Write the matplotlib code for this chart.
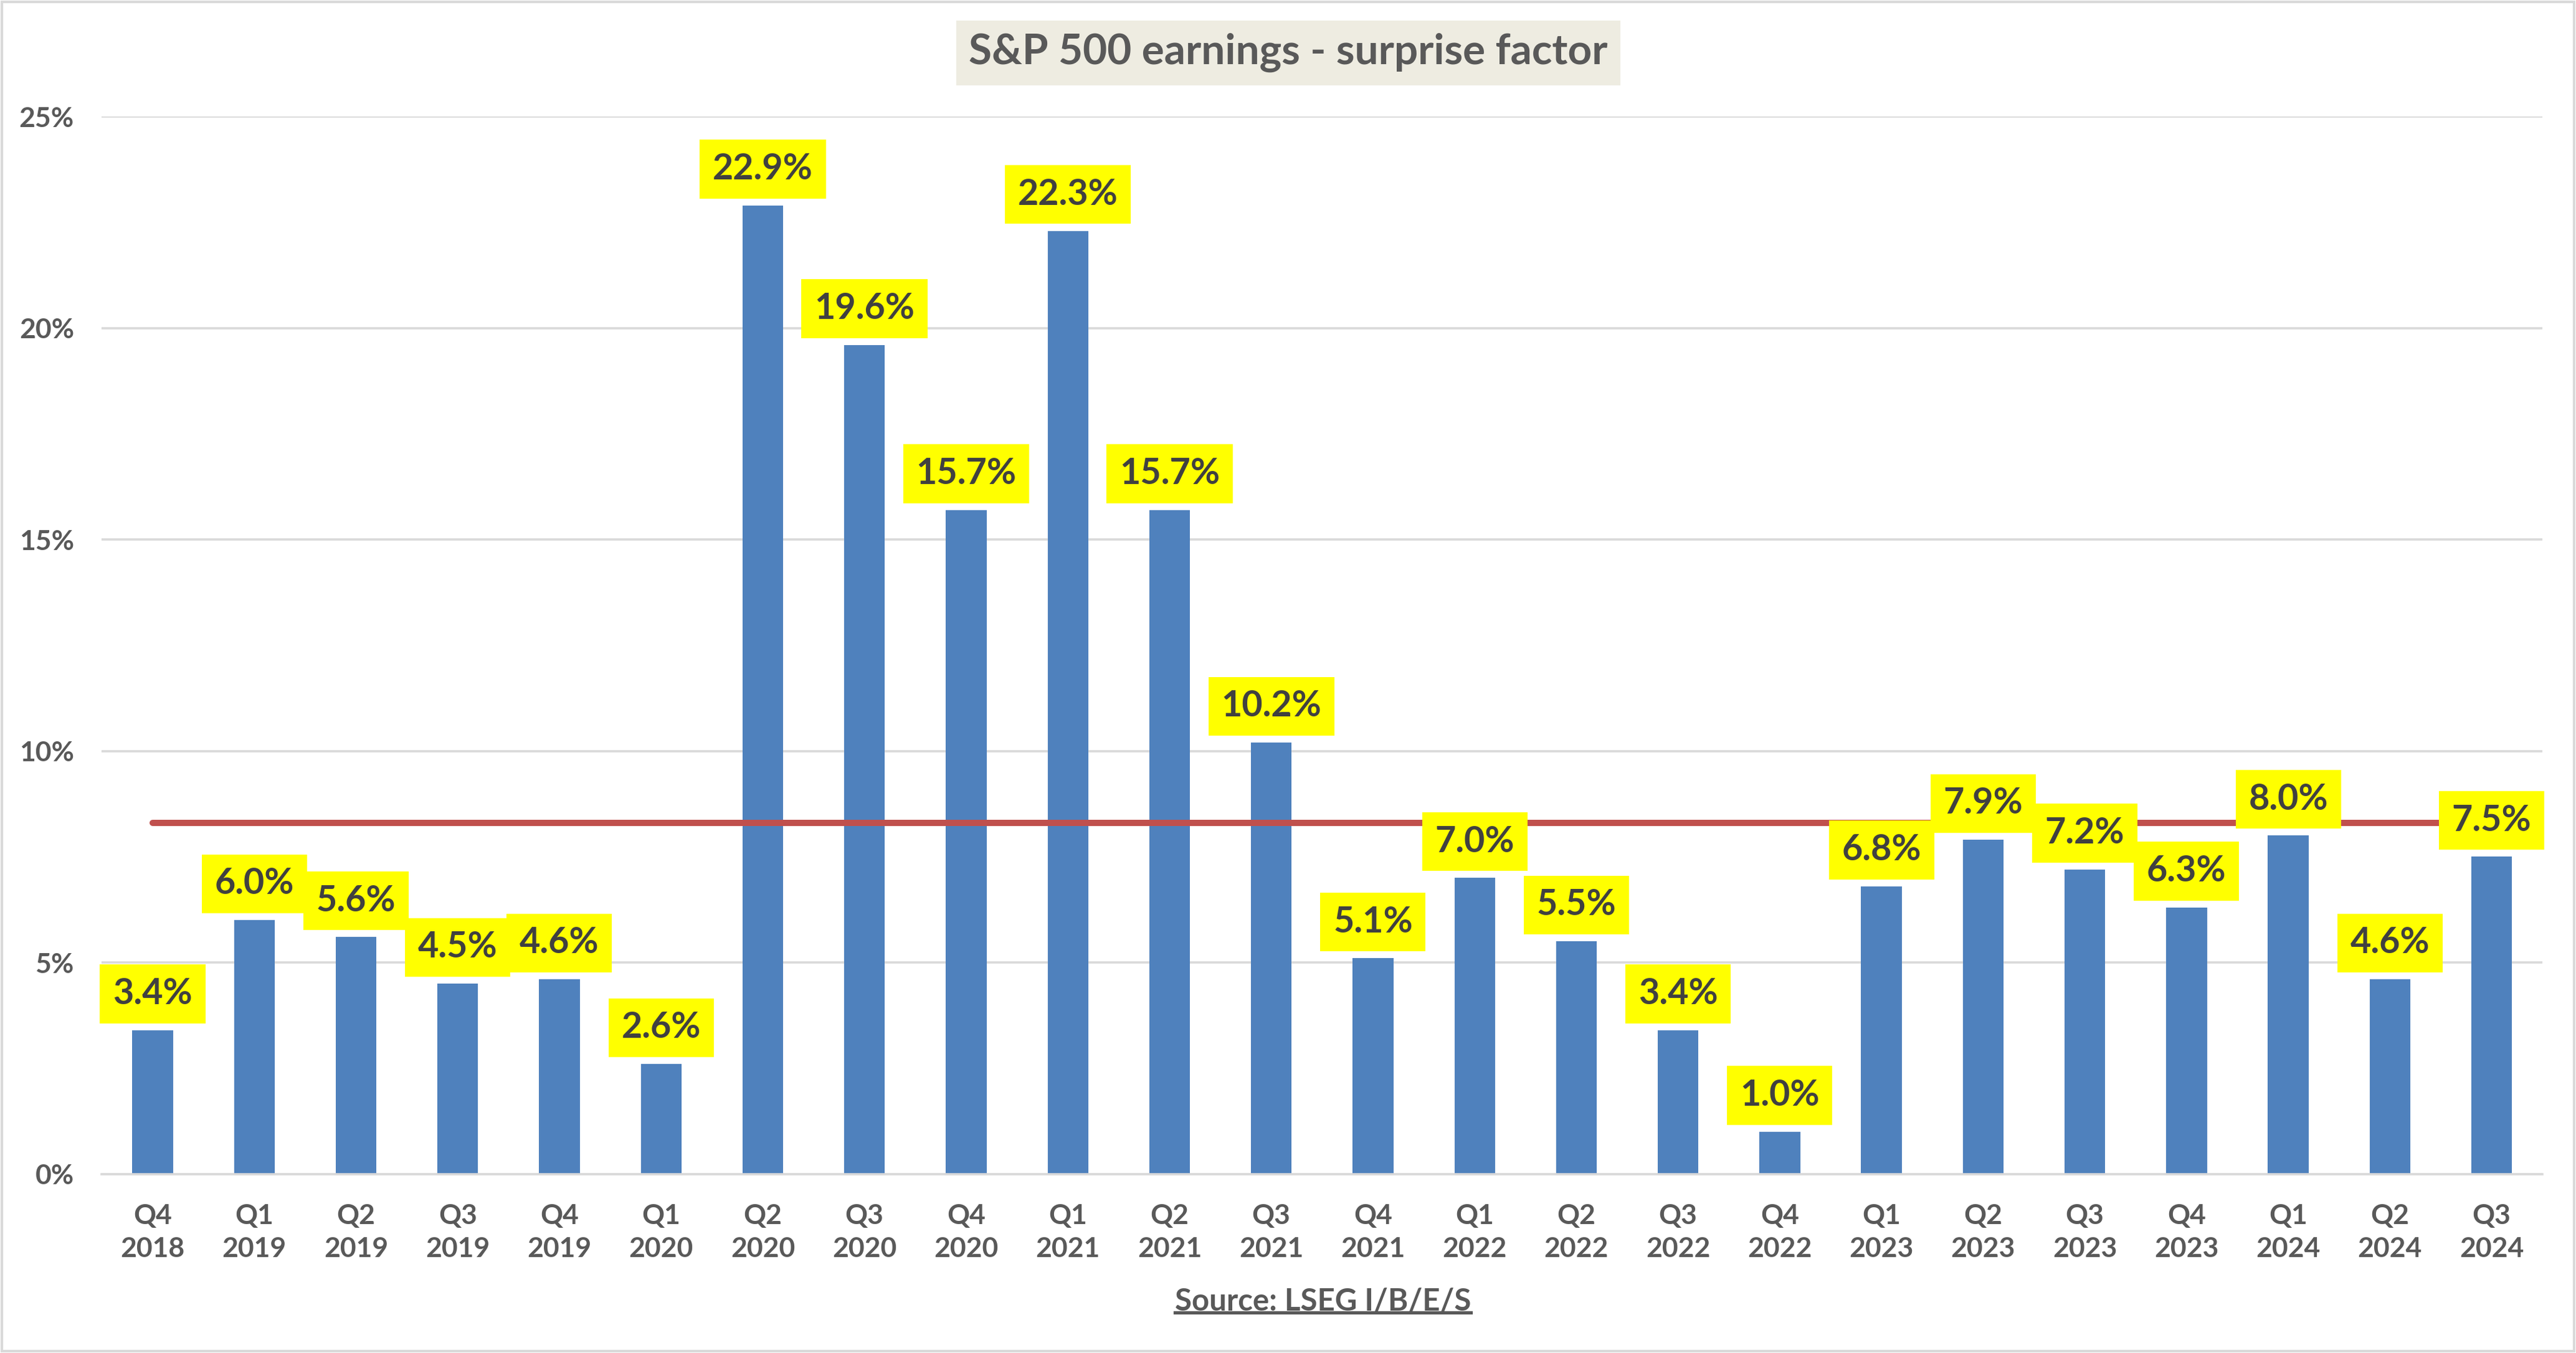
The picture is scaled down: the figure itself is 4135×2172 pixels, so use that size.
import matplotlib
matplotlib.use("Agg")
import matplotlib.pyplot as plt
from matplotlib.lines import Line2D
from matplotlib.patches import Rectangle
from matplotlib.ticker import FuncFormatter


# DATOS

TRIMESTRES = [
    "Q4", "Q1", "Q2", "Q3", "Q4", "Q1", "Q2", "Q3", "Q4", "Q1", "Q2", "Q3",
    "Q4", "Q1", "Q2", "Q3", "Q4", "Q1", "Q2", "Q3", "Q4", "Q1", "Q2", "Q3"
]

ANIOS = [
    "2018", "2019", "2019", "2019", "2019", "2020", "2020", "2020", "2020",
    "2021", "2021", "2021", "2021", "2022", "2022", "2022", "2022",
    "2023", "2023", "2023", "2023", "2024", "2024", "2024"
]

SORPRESA = [
    3.4, 6.0, 5.6, 4.5, 4.6, 2.6, 22.9, 19.6, 15.7, 22.3, 15.7, 10.2,
    5.1, 7.0, 5.5, 3.4, 1.0, 6.8, 7.9, 7.2, 6.3, 8.0, 4.6, 7.5
]

PROMEDIO = 8.3

Y_TICKS = [0, 5, 10, 15, 20, 25]

TITULO = "S&P 500 earnings - surprise factor"
FUENTE = "Source: LSEG I/B/E/S"


# ESTILO

COLOR_BARRA = "#4F81BD"
COLOR_LINEA = "#C0504D"
COLOR_GRID = "#D9D9D9"
COLOR_TEXTO = "#595959"
COLOR_ETIQUETA = "#404040"
FUENTE_TXT = ["Lato", "DejaVu Sans"]

plt.rcParams["font.family"] = FUENTE_TXT


# FIGURA

fig = plt.figure(figsize=(4135 / 200, 2172 / 200), dpi=200)
ax = fig.add_axes([0.0395, 0.1323, 0.9475, 0.7815])

x = list(range(len(SORPRESA)))
etiquetas_x = [f"{q}\n{a}" for q, a in zip(TRIMESTRES, ANIOS)]

ax.bar(x, SORPRESA, width=0.4, color=COLOR_BARRA, zorder=2)

ax.plot(
    x,
    [PROMEDIO] * len(x),
    color=COLOR_LINEA,
    linewidth=3.6,
    solid_capstyle="round",
    zorder=3
)

for xi, valor in zip(x, SORPRESA):
    ax.annotate(
        f"{valor:.1f}%",
        xy=(xi, valor),
        xytext=(0, 21),
        textcoords="offset points",
        ha="center",
        va="center",
        fontsize=20.7,
        fontweight="bold",
        color=COLOR_ETIQUETA,
        bbox=dict(
            boxstyle="square,pad=0.36",
            facecolor="#FFFF00",
            edgecolor="none"
        ),
        zorder=4
    )

ax.set_xlim(-0.5, len(x) - 0.5)
ax.set_ylim(0, 25)

ax.set_xticks(x)
ax.set_xticklabels(etiquetas_x, linespacing=1.4)
ax.set_yticks(Y_TICKS)
ax.yaxis.set_major_formatter(FuncFormatter(lambda v, p: f"{v:.0f}%"))

ax.tick_params(
    axis="both",
    length=0,
    labelsize=16,
    labelcolor=COLOR_TEXTO
)
ax.tick_params(axis="x", pad=17)
ax.tick_params(axis="y", pad=16)

for etiqueta in ax.get_xticklabels() + ax.get_yticklabels():
    etiqueta.set_fontweight("bold")

ax.grid(axis="y", color=COLOR_GRID, linewidth=1.3, zorder=0)
ax.set_axisbelow(True)

for lado in ["top", "right", "left"]:
    ax.spines[lado].set_visible(False)

ax.spines["bottom"].set_color(COLOR_GRID)
ax.spines["bottom"].set_linewidth(1.3)


# TITULO Y FUENTE (SUBRAYADOS)

titulo = fig.text(
    0.5,
    0.961,
    TITULO,
    ha="center",
    va="center",
    fontsize=24.3,
    fontweight="bold",
    color=COLOR_TEXTO,
    bbox=dict(
        boxstyle="square,pad=0.3",
        facecolor="#EEECE1",
        edgecolor="none"
    )
)

fuente = fig.text(
    0.5135,
    0.038,
    FUENTE,
    ha="center",
    va="center",
    fontsize=17.7,
    fontweight="bold",
    color=COLOR_TEXTO
)

renderer = fig.canvas.get_renderer()
inv = fig.transFigure.inverted()

for texto, grosor in [(titulo, 2.3), (fuente, 1.9)]:
    caja = texto.get_window_extent(renderer=renderer)
    (x0, y0), (x1, y1) = inv.transform(
        [[caja.x0, caja.y0], [caja.x1, caja.y1]]
    )
    y_linea = y0 + (y1 - y0) * 0.12
    fig.add_artist(
        Line2D(
            [x0, x1],
            [y_linea, y_linea],
            color=COLOR_TEXTO,
            linewidth=grosor,
            transform=fig.transFigure
        )
    )

fig.add_artist(
    Rectangle(
        (0.0008, 0.0015),
        0.9984,
        0.997,
        transform=fig.transFigure,
        fill=False,
        edgecolor=COLOR_GRID,
        linewidth=1.5
    )
)

fig.savefig("out.png", dpi=200)
